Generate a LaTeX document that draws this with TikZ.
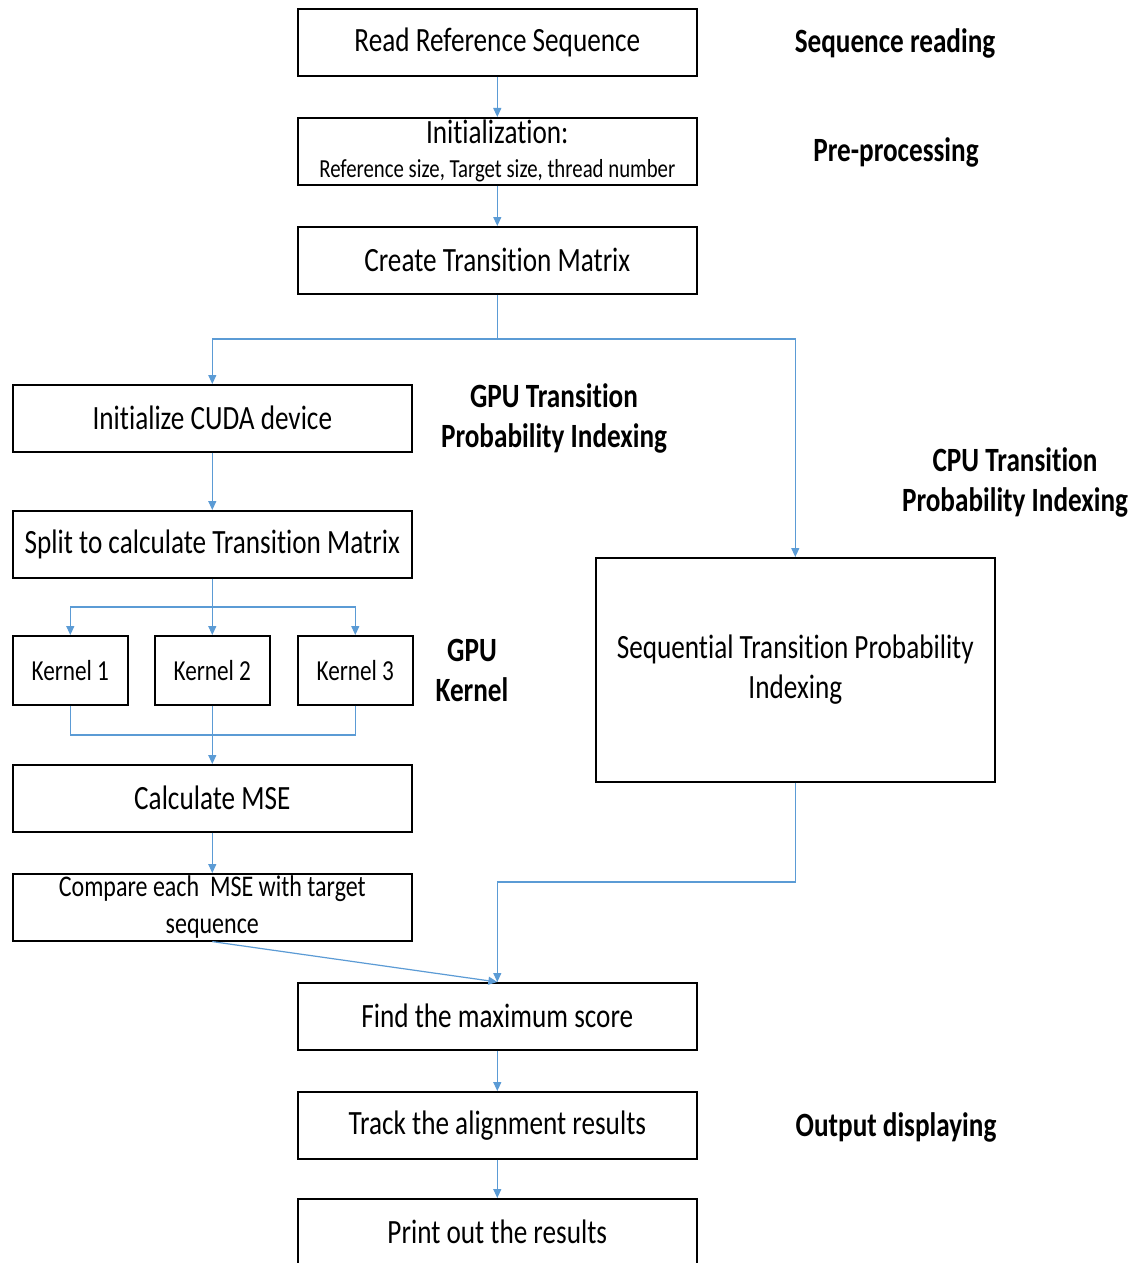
\documentclass[tikz,border=0pt]{standalone}
\usepackage{fontspec}
\setmainfont{Carlito}[FakeStretch=0.8, Ligatures={NoCommon}]
\usetikzlibrary{arrows.meta}
\definecolor{arrblue}{RGB}{91,155,213}
\tikzset{
  box/.style={draw=black, line width=0.8pt, minimum width=199.5pt, minimum height=33.5pt, inner sep=0pt, anchor=north west, align=center, font=\fontsize{17}{20}\selectfont},
  kbox/.style={box, minimum width=57.5pt, minimum height=34.5pt, font=\fontsize{14.5}{17}\selectfont},
  arr/.style={draw=arrblue, line width=0.6pt, -{Triangle[length=4.5pt,width=4pt]}},
  ln/.style={draw=arrblue, line width=0.6pt},
  lbl/.style={align=center, font=\fontsize{17}{20}\selectfont\bfseries, inner sep=0pt}
}
\begin{document}
\begin{tikzpicture}[x=0.5pt,y=-0.5pt]
\useasboundingbox[fill=white] (0,0) rectangle (1137,1263);
% boxes
\node[box] (read) at (297,8) {Read Reference Sequence};
\node[box] (init) at (297,117) {Initialization:\\[-3pt]{\fontsize{13}{15}\selectfont Reference size, Target size, thread number}};
\node[box] (ctm) at (297,226) {Create Transition Matrix};
\node[box] (cuda) at (12,384) {Initialize CUDA device};
\node[box] (split) at (12,510) {Split to calculate Transition Matrix};
\node[kbox] (k1) at (12,635) {Kernel 1};
\node[kbox] (k2) at (154,635) {Kernel 2};
\node[kbox] (k3) at (297,635) {Kernel 3};
\node[box] (mse) at (12,764) {Calculate MSE};
\node[box, font=\fontsize{15}{18.5}\selectfont] (cmp) at (12,873) {Compare each\ \ MSE with target\\sequence};
\node[box, minimum height=112pt] (seq) at (595,557) {Sequential Transition Probability\\Indexing};
\node[box] (find) at (297,982) {Find the maximum score};
\node[box] (track) at (297,1091) {Track the alignment results};
\node[box] (print) at (297,1198) {Print out the results};
% labels
\node[lbl] (l1) at (895,43) {Sequence reading};
\node[lbl] (l2) at (896,152) {Pre-processing};
\node[lbl] (l3) at (554,418) {GPU Transition\\Probability Indexing};
\node[lbl] (l4) at (1015,482) {CPU Transition\\Probability Indexing};
\node[lbl] (l5) at (472,670) {GPU\\Kernel};
\node[lbl] (l6) at (896,1127) {Output displaying};
% connectors
\coordinate (b1) at (ctm.south |- 0,339);
\coordinate (b2) at (split.south |- 0,607);
\coordinate (b3) at (k2.south |- 0,735);
\coordinate (b4) at (find.north |- 0,882);
\draw[arr] (read.south) -- (init.north);
\draw[arr] (init.south) -- (ctm.north);
\draw[ln] (ctm.south) -- (b1);
\draw[arr] (b1) -| (cuda.north);
\draw[arr] (b1) -| (seq.north);
\draw[arr] (cuda.south) -- (split.north);
\draw[arr] (split.south) -- (k2.north);
\draw[arr] (b2) -| (k1.north);
\draw[arr] (b2) -| (k3.north);
\draw[ln] (k1.south) |- (b3);
\draw[ln] (k3.south) |- (b3);
\draw[arr] (k2.south) -- (mse.north);
\draw[arr] (mse.south) -- (cmp.north);
\draw[arr] (cmp.south) -- (find.north);
\draw[ln] (seq.south) |- (b4);
\draw[arr] (b4) -- (find.north);
\draw[arr] (find.south) -- (track.north);
\draw[arr] (track.south) -- (print.north);
\end{tikzpicture}
\end{document}
